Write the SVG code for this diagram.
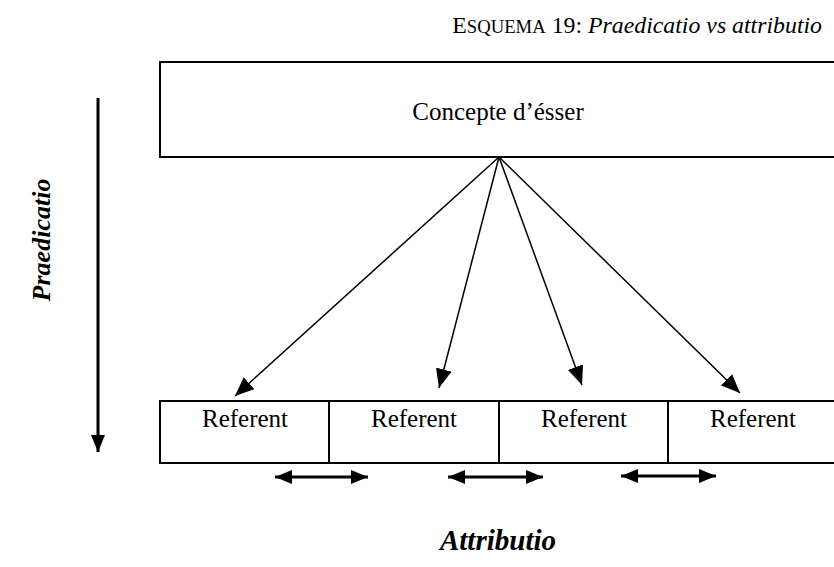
<svg xmlns="http://www.w3.org/2000/svg" width="834" height="567" viewBox="0 0 834 567">
<style>
text{font-family:"Liberation Serif","Times New Roman",serif;fill:#000}
.box{fill:#fff;stroke:#000;stroke-width:2}
.lbl{font-size:25px;text-anchor:middle}
.big{font-weight:bold;font-style:italic;text-anchor:middle}
.ln{stroke:#000;stroke-width:1.5;fill:none}
.th{stroke:#000;stroke-width:3;fill:none}
</style>
<defs>
<marker id="ah" markerUnits="userSpaceOnUse" markerWidth="20" markerHeight="16" refX="19" refY="8" orient="auto"><path d="M0,0 L19,8 L0,16 Z" fill="#000"/></marker>
<marker id="ah2" markerUnits="userSpaceOnUse" markerWidth="18" markerHeight="14" refX="17" refY="7" orient="auto-start-reverse"><path d="M0,0 L17,7 L0,14 Z" fill="#000"/></marker>
</defs>
<text x="822" y="33" text-anchor="end" font-size="23.8"><tspan>E</tspan><tspan font-size="18.7">SQUEMA</tspan><tspan> 19: </tspan><tspan font-style="italic">Praedicatio vs attributio</tspan></text>
<g id="concepte">
<rect class="box" x="160" y="62" width="680" height="95"/>
<text class="lbl" x="498" y="120" font-size="27">Concepte d’ésser</text>
</g>
<g id="referent1"><rect class="box" x="160" y="401" width="169" height="62"/><text class="lbl" x="245" y="427">Referent</text></g>
<g id="referent2"><rect class="box" x="329" y="401" width="170" height="62"/><text class="lbl" x="414" y="427">Referent</text></g>
<g id="referent3"><rect class="box" x="499" y="401" width="169" height="62"/><text class="lbl" x="584" y="427">Referent</text></g>
<g id="referent4"><rect class="box" x="668" y="401" width="172" height="62"/><text class="lbl" x="753" y="427">Referent</text></g>
<g id="praedicatio"><text class="big" font-size="26" transform="translate(50,240) rotate(-90)">Praedicatio</text></g>
<g id="attributio"><text class="big" font-size="29" x="498" y="550">Attributio</text></g>
<g id="connectors">
<line class="ln" x1="499" y1="157" x2="235" y2="396" marker-end="url(#ah)"/>
<line class="ln" x1="499" y1="157" x2="439" y2="388" marker-end="url(#ah)"/>
<line class="ln" x1="499" y1="157" x2="582" y2="385" marker-end="url(#ah)"/>
<line class="ln" x1="499" y1="157" x2="740" y2="393" marker-end="url(#ah)"/>
<line class="th" x1="98" y1="98" x2="98" y2="452" marker-end="url(#ah2)"/>
<line class="th" x1="275" y1="477" x2="368" y2="477" marker-start="url(#ah2)" marker-end="url(#ah2)"/>
<line class="th" x1="448" y1="477" x2="543" y2="477" marker-start="url(#ah2)" marker-end="url(#ah2)"/>
<line class="th" x1="621" y1="476" x2="716" y2="476" marker-start="url(#ah2)" marker-end="url(#ah2)"/>
</g>
</svg>
